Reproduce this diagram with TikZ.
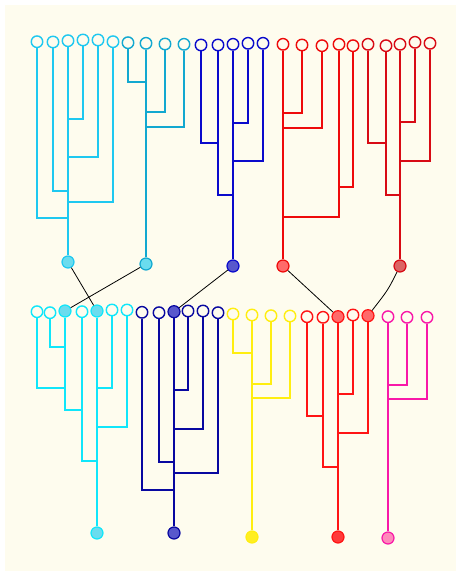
\documentclass[tikz,border=0pt]{standalone}
\begin{document}
\begin{tikzpicture}[x=1pt,y=-1pt,
  leaf/.style={circle,draw=#1,line width=1.4pt,minimum size=11.5pt,inner sep=0pt,fill=bgc},
  hub/.style 2 args={circle,draw=#1,fill=#2,line width=1.2pt,minimum size=12pt,inner sep=0pt},
  br/.style={draw=#1,line width=1.5pt},
  link/.style={draw=black,line width=0.8pt}]
\definecolor{bgc}{HTML}{FEFCEE}
\definecolor{cyA}{HTML}{1EC8F0}
\definecolor{cyB}{HTML}{12A8D0}
\definecolor{blA}{HTML}{0A0ACC}
\definecolor{rdA}{HTML}{EE0A0A}
\definecolor{rdB}{HTML}{D80A14}
\definecolor{cyC}{HTML}{10E6FA}
\definecolor{blB}{HTML}{0808A0}
\definecolor{yl}{HTML}{FFEE10}
\definecolor{rdC}{HTML}{FF1414}
\definecolor{pk}{HTML}{F818A8}
\definecolor{cyF}{HTML}{6ADCEE}
\definecolor{blF}{HTML}{5858CC}
\definecolor{rdF}{HTML}{FF6A6A}
\definecolor{rdG}{HTML}{DC6464}
\definecolor{ylF}{HTML}{FFEE22}
\definecolor{rdH}{HTML}{FF3A3A}
\definecolor{pkF}{HTML}{FF88BB}
\useasboundingbox (0,0) rectangle (456,571);
\fill[bgc] (5,5) rectangle (456,571);
% ---------- top leaves ----------
\node[leaf=cyA] (t1) at (37,41.7) {};
\node[leaf=cyA] (t2) at (53,42) {};
\node[leaf=cyA] (t3) at (68,40.7) {};
\node[leaf=cyA] (t4) at (83,40) {};
\node[leaf=cyA] (t5) at (98,40) {};
\node[leaf=cyA] (t6) at (113,41.7) {};
\node[leaf=cyB] (t7) at (128,42.7) {};
\node[leaf=cyB] (t8) at (146,43.3) {};
\node[leaf=cyB] (t9) at (165,44) {};
\node[leaf=cyB] (t10) at (184,44.3) {};
\node[leaf=blA] (t11) at (201,45) {};
\node[leaf=blA] (t12) at (218,45) {};
\node[leaf=blA] (t13) at (233,44.3) {};
\node[leaf=blA] (t14) at (248,43.3) {};
\node[leaf=blA] (t15) at (263,43.3) {};
\node[leaf=rdA] (t16) at (283,44.3) {};
\node[leaf=rdA] (t17) at (302,45) {};
\node[leaf=rdA] (t18) at (322,45.7) {};
\node[leaf=rdA] (t19) at (339,44.3) {};
\node[leaf=rdA] (t20) at (353,45.7) {};
\node[leaf=rdB] (t21) at (368,44.3) {};
\node[leaf=rdB] (t22) at (386,45.7) {};
\node[leaf=rdB] (t23) at (400,44.3) {};
\node[leaf=rdB] (t24) at (415,42.3) {};
\node[leaf=rdB] (t25) at (430,43.3) {};
% ---------- top roots ----------
\node[hub={cyA}{cyF}] (rA) at (68,262) {};
\node[hub={cyB}{cyF}] (rB) at (146,264) {};
\node[hub={blA}{blF}] (rC) at (233,266) {};
\node[hub={rdA}{rdF}] (rD) at (283,266) {};
\node[hub={rdB}{rdG}] (rE) at (400,266) {};
% ---------- bottom leaves ----------
\node[leaf=cyC] (b1) at (37,311.7) {};
\node[leaf=cyC] (b2) at (50,312.7) {};
\node[hub={cyC}{cyF}] (b3) at (65,311) {};
\node[leaf=cyC] (b4) at (82,311.7) {};
\node[hub={cyC}{cyF}] (b5) at (97,311) {};
\node[leaf=cyC] (b6) at (112,310) {};
\node[leaf=cyC] (b7) at (127,310) {};
\node[leaf=blB] (b8) at (142,312.3) {};
\node[leaf=blB] (b9) at (159,312.7) {};
\node[hub={blB}{blF}] (b10) at (174,311.7) {};
\node[leaf=blB] (b11) at (188,311) {};
\node[leaf=blB] (b12) at (203,311) {};
\node[leaf=blB] (b13) at (218,312.7) {};
\node[leaf=yl] (b14) at (233,314) {};
\node[leaf=yl] (b15) at (252,315) {};
\node[leaf=yl] (b16) at (271,315.7) {};
\node[leaf=yl] (b17) at (290,316) {};
\node[leaf=rdC] (b18) at (307,316.7) {};
\node[leaf=rdC] (b19) at (323,317.3) {};
\node[hub={rdC}{rdF}] (b20) at (338,316.7) {};
\node[leaf=rdC] (b21) at (353,315) {};
\node[hub={rdC}{rdF}] (b22) at (368,315.7) {};
\node[leaf=pk] (b23) at (388,316.7) {};
\node[leaf=pk] (b24) at (407,317.3) {};
\node[leaf=pk] (b25) at (427,317.3) {};
% ---------- bottom roots ----------
\node[hub={cyC}{cyF}] (rF) at (97,533) {};
\node[hub={blB}{blF}] (rG) at (174,533) {};
\node[hub={yl}{ylF}] (rH) at (252,537) {};
\node[hub={rdC}{rdH}] (rI) at (338,537) {};
\node[hub={pk}{pkF}] (rJ) at (388,538) {};
% ---------- junction coordinates ----------
\coordinate (jA4) at (68,119);  \coordinate (jA5) at (68,157);
\coordinate (jA2) at (68,191);  \coordinate (jA6) at (68,202);
\coordinate (jA1) at (68,218);
\coordinate (jB7) at (146,82);  \coordinate (jB9) at (146,112);
\coordinate (jB10) at (146,127);
\coordinate (jC14) at (233,123); \coordinate (jC11) at (218,143);
\coordinate (jC15) at (233,161); \coordinate (jC12) at (233,195);
\coordinate (jD17) at (283,113); \coordinate (jD18) at (283,128);
\coordinate (jD20) at (339,187); \coordinate (jD19) at (283,217);
\coordinate (jE24) at (400,122); \coordinate (jE25) at (400,161);
\coordinate (jE21) at (386,143); \coordinate (jE22) at (400,195);
\coordinate (jF2) at (65,347);  \coordinate (jF1) at (65,388);
\coordinate (jF6) at (97,388);  \coordinate (jF3) at (82,410);
\coordinate (jF7) at (97,427);  \coordinate (jF4) at (97,461);
\coordinate (jG11) at (174,390); \coordinate (jG12) at (174,429);
\coordinate (jG9) at (174,462); \coordinate (jG13) at (174,473);
\coordinate (jG8) at (174,490);
\coordinate (jH14) at (252,353); \coordinate (jH16) at (252,384);
\coordinate (jH17) at (252,398);
\coordinate (jI18) at (323,416); \coordinate (jI21) at (338,394);
\coordinate (jI22) at (338,433); \coordinate (jI19) at (338,467);
\coordinate (jJ24) at (388,385); \coordinate (jJ25) at (388,399);
% ---------- top branches ----------
\draw[br=cyA] (t3) -- (rA);
\draw[br=cyA] (t4) |- (jA4);
\draw[br=cyA] (t5) |- (jA5);
\draw[br=cyA] (t2) |- (jA2);
\draw[br=cyA] (t6) |- (jA6);
\draw[br=cyA] (t1) |- (jA1);
\draw[br=cyB] (t8) -- (rB);
\draw[br=cyB] (t7) |- (jB7);
\draw[br=cyB] (t9) |- (jB9);
\draw[br=cyB] (t10) |- (jB10);
\draw[br=blA] (t13) -- (rC);
\draw[br=blA] (t14) |- (jC14);
\draw[br=blA] (t11) |- (jC11);
\draw[br=blA] (t15) |- (jC15);
\draw[br=blA] (t12) |- (jC12);
\draw[br=rdA] (t16) -- (rD);
\draw[br=rdA] (t17) |- (jD17);
\draw[br=rdA] (t18) |- (jD18);
\draw[br=rdA] (t20) |- (jD20);
\draw[br=rdA] (t19) |- (jD19);
\draw[br=rdB] (t23) -- (rE);
\draw[br=rdB] (t24) |- (jE24);
\draw[br=rdB] (t25) |- (jE25);
\draw[br=rdB] (t21) |- (jE21);
\draw[br=rdB] (t22) |- (jE22);
% ---------- bottom branches ----------
\draw[br=cyC] (b5) -- (rF);
\draw[br=cyC] (b2) |- (jF2);
\draw[br=cyC] (b1) |- (jF1);
\draw[br=cyC] (b6) |- (jF6);
\draw[br=cyC] (b3) |- (jF3);
\draw[br=cyC] (b7) |- (jF7);
\draw[br=cyC] (b4) |- (jF4);
\draw[br=blB] (b10) -- (rG);
\draw[br=blB] (b11) |- (jG11);
\draw[br=blB] (b12) |- (jG12);
\draw[br=blB] (b9) |- (jG9);
\draw[br=blB] (b13) |- (jG13);
\draw[br=blB] (b8) |- (jG8);
\draw[br=yl] (b15) -- (rH);
\draw[br=yl] (b14) |- (jH14);
\draw[br=yl] (b16) |- (jH16);
\draw[br=yl] (b17) |- (jH17);
\draw[br=rdC] (b20) -- (rI);
\draw[br=rdC] (b18) |- (jI18);
\draw[br=rdC] (b21) |- (jI21);
\draw[br=rdC] (b22) |- (jI22);
\draw[br=rdC] (b19) |- (jI19);
\draw[br=pk] (b23) -- (rJ);
\draw[br=pk] (b24) |- (jJ24);
\draw[br=pk] (b25) |- (jJ25);
% ---------- links between levels ----------
\draw[link] (rA) -- (b5);
\draw[link] (rB) -- (b3);
\draw[link] (rC) -- (b10);
\draw[link] (rD) -- (b20);
\draw[link] (rE) .. controls (388,290) .. (b22);
\end{tikzpicture}
\end{document}
